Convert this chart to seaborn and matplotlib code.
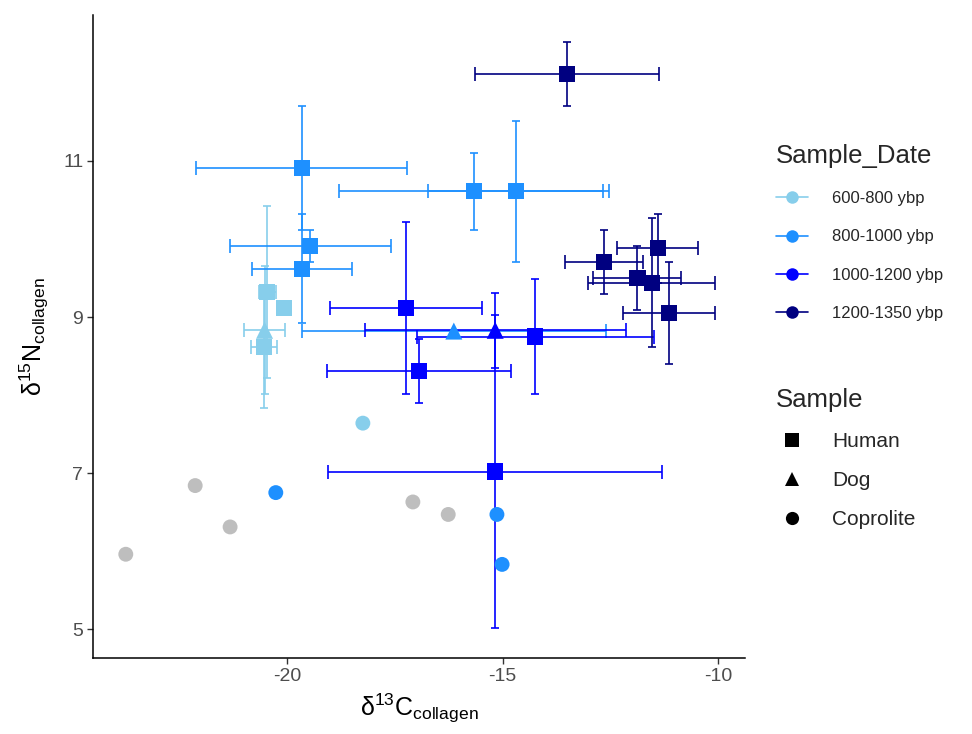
import numpy as np
import pandas as pd
import matplotlib
matplotlib.use("Agg")
import matplotlib.pyplot as plt
from matplotlib.lines import Line2D
import seaborn as sns

# ---------------- data ----------------
sample_date = (["600-800 ybp"] * 5 + ["800-1000 ybp"] * 9 + ["1000-1200 ybp"] * 5
               + ["1200-1350 ybp"] * 6 + ["NA"] * 5)
sample_type = (["Human", "Human", "Dog", "Human", "Coprolite"]
               + ["Human", "Human", "Human", "Human", "Human", "Dog", "Coprolite", "Coprolite", "Coprolite"]
               + ["Human", "Dog", "Human", "Human", "Human"]
               + ["Human"] * 6
               + ["Coprolite"] * 5)
d13c = [-20.46, -20.06, -20.52, -20.54, -18.24,
        -19.66, -19.46, -19.65, -15.66, -14.69, -16.13, -20.26, -15.13, -15.01,
        -17.24, -15.17, -14.24, -16.94, -15.18,
        -13.51, -12.64, -11.40, -11.87, -11.54, -11.13,
        -23.74, -22.13, -21.32, -17.08, -16.26]
d15n = [9.32, 9.12, 8.83, 8.62, 7.64,
        10.91, 9.91, 9.62, 10.61, 10.61, 8.82, 6.75, 6.47, 5.83,
        9.12, 8.83, 8.75, 8.31, 7.02,
        12.11, 9.71, 9.88, 9.50, 9.44, 9.05,
        5.96, 6.84, 6.31, 6.63, 6.47]
d13c_sd = [0.20, np.nan, 0.48, 0.30, np.nan,
           2.45, 1.87, 1.16, 3.13, 2.03, 3.52, np.nan, np.nan, np.nan,
           1.77, 3.03, 2.75, 2.14, 3.87,
           2.14, 0.90, 0.94, 1.02, 1.48, 1.07,
           np.nan, np.nan, np.nan, np.nan, np.nan]
d15n_sd = [1.10, np.nan, 0.82, 0.79, np.nan,
           0.80, 0.20, 0.70, 0.49, 0.90, np.nan, np.nan, np.nan, np.nan,
           1.10, 0.48, 0.74, 0.41, 2.00,
           0.41, 0.41, 0.44, 0.41, 0.83, 0.65,
           np.nan, np.nan, np.nan, np.nan, np.nan]

date_levels = ["600-800 ybp", "800-1000 ybp", "1000-1200 ybp", "1200-1350 ybp"]
date_colors = ["#87CEEB", "#1E90FF", "#0000FF", "#000080"]
na_color = "#BEBEBE"
sample_levels = ["Human", "Dog", "Coprolite"]
x_ticks = [-20, -15, -10]
y_ticks = [5, 7, 9, 11]

df = pd.DataFrame({"Sample_Date": sample_date, "Sample": sample_type,
                   "d13C": d13c, "d15N": d15n, "d13C_sd": d13c_sd, "d15N_sd": d15n_sd})

palette = dict(zip(date_levels, date_colors))
palette["NA"] = na_color

# ---------------- style ----------------
sns.set_theme(style="ticks")
plt.rcParams["font.family"] = ["Liberation Sans", "DejaVu Sans"]
plt.rcParams["mathtext.default"] = "regular"

fig = plt.figure(figsize=(9.72, 7.34), dpi=100)
ax = fig.add_axes([0.0957, 0.1035, 0.671, 0.876])

# error bars (drawn under the points), one series at a time
for lvl in date_levels:
    sub = df[df["Sample_Date"] == lvl]
    col = palette[lvl]
    sx = sub.dropna(subset=["d13C_sd"])
    ax.errorbar(sx["d13C"], sx["d15N"], xerr=sx["d13C_sd"], fmt="none",
                ecolor=col, elinewidth=1.2, capsize=5.2, capthick=1.2, zorder=1)
    sy = sub.dropna(subset=["d15N_sd"])
    ax.errorbar(sy["d13C"], sy["d15N"], yerr=sy["d15N_sd"], fmt="none",
                ecolor=col, elinewidth=1.2, capsize=2.9, capthick=1.2, zorder=1)

marker_map = {"Human": "s", "Dog": "^", "Coprolite": "o"}
size_map = {"Human": 135, "Dog": 150, "Coprolite": 115}
for smp in sample_levels:
    sub = df[df["Sample"] == smp]
    sns.scatterplot(data=sub, x="d13C", y="d15N", hue="Sample_Date", palette=palette,
                    marker=marker_map[smp], s=size_map[smp], linewidth=0,
                    legend=False, ax=ax, zorder=3)

ax.set_xlim(-24.5, -9.37)
ax.set_ylim(4.63, 12.87)
ax.set_xticks(x_ticks)
ax.set_yticks(y_ticks)
ax.set_xticklabels([str(t) for t in x_ticks])
ax.set_yticklabels([str(t) for t in y_ticks])
ax.tick_params(axis="both", labelsize=14, labelcolor="#4D4D4D", color="#333333",
               length=4, width=1.0, pad=3)
for side in ["top", "right"]:
    ax.spines[side].set_visible(False)
for side in ["left", "bottom"]:
    ax.spines[side].set_color("black")
    ax.spines[side].set_linewidth(1.1)

ax.set_xlabel("δ$^{13}$C$_{collagen}$", fontsize=18, color="black", labelpad=5)
ax.set_ylabel("δ$^{15}$N$_{collagen}$", fontsize=18, color="black", labelpad=9)

# ---------------- legends ----------------
fs1 = 12.0
k1 = 11.5 / fs1
date_handles = [Line2D([0], [0], color=c, lw=1.2, marker="o", markersize=9,
                       markeredgewidth=0) for c in date_colors]
leg1 = fig.legend(date_handles, date_levels, title="Sample_Date",
                  loc="upper left", bbox_to_anchor=(0.7836, 0.8233), frameon=False,
                  fontsize=fs1, title_fontsize=18.5, handlelength=2.0 * k1,
                  labelspacing=1.39, handletextpad=1.5 * k1, alignment="left",
                  borderpad=0.4 * k1, borderaxespad=0.5 * k1)

fs2 = 15.0
k2 = 11.5 / fs2
shape_handles = [Line2D([0], [0], color="black", lw=0, marker=marker_map[s],
                        markersize=10 if s != "Coprolite" else 9.5,
                        markeredgewidth=0) for s in sample_levels]
leg2 = fig.legend(shape_handles, sample_levels, title="Sample",
                  loc="upper left", bbox_to_anchor=(0.7836, 0.4915), frameon=False,
                  fontsize=fs2, title_fontsize=18.5, handlelength=2.0 * k2,
                  labelspacing=0.97, handletextpad=1.5 * k2, alignment="left",
                  borderpad=0.4 * k2, borderaxespad=0.5 * k2)

fig.savefig("out.png", dpi=100)
